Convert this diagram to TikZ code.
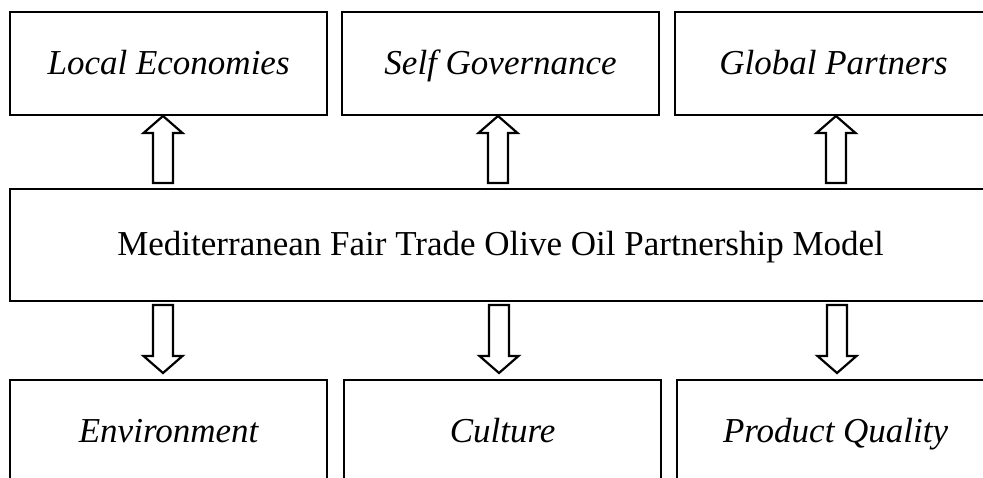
\documentclass[tikz,border=0pt]{standalone}
\usepackage{fontspec}
\setmainfont{Liberation Serif}
\begin{document}
\begin{tikzpicture}[x=1pt,y=-1pt,
  box/.style={draw=black,line width=2.2pt,rectangle,minimum width=317pt,minimum height=103pt,inner sep=0pt,
    text height=24pt,text depth=3pt,
    font=\fontsize{35}{42}\selectfont\itshape,anchor=north west},
  bigbox/.style={draw=black,line width=2.2pt,rectangle,minimum width=981pt,minimum height=112pt,inner sep=0pt,
    text height=24pt,text depth=3pt,
    font=\fontsize{35}{42}\selectfont,anchor=north west},
  arr/.style={draw=black,line width=2.2pt,fill=white,line join=miter}]
\useasboundingbox (0,0) rectangle (983,478);
\clip (0,0) rectangle (983,478);
\node[box] (le) at (9,11) {Local Economies};
\node[box] (sg) at (341,11) {Self Governance};
\node[box] (gp) at (674,11) {Global Partners};
\node[bigbox] (mid) at (9,188) {Mediterranean Fair Trade Olive Oil Partnership Model};
\node[box] (env) at (9,379) {Environment};
\node[box] (cul) at (343,379) {Culture};
\node[box] (pq) at (676,379) {Product Quality};
% up arrows (middle -> top boxes)
\foreach \c in {163,498,836}{
  \draw[arr] (\c-10,183) -- (\c-10,133) -- (\c-19.5,133) -- (\c,116) -- (\c+19.5,133) -- (\c+10,133) -- (\c+10,183) -- cycle;
}
% down arrows (middle -> bottom boxes)
\foreach \c in {163,499,837}{
  \draw[arr] (\c-10,305) -- (\c-10,356) -- (\c-19.5,356) -- (\c,373) -- (\c+19.5,356) -- (\c+10,356) -- (\c+10,305) -- cycle;
}
\end{tikzpicture}
\end{document}
